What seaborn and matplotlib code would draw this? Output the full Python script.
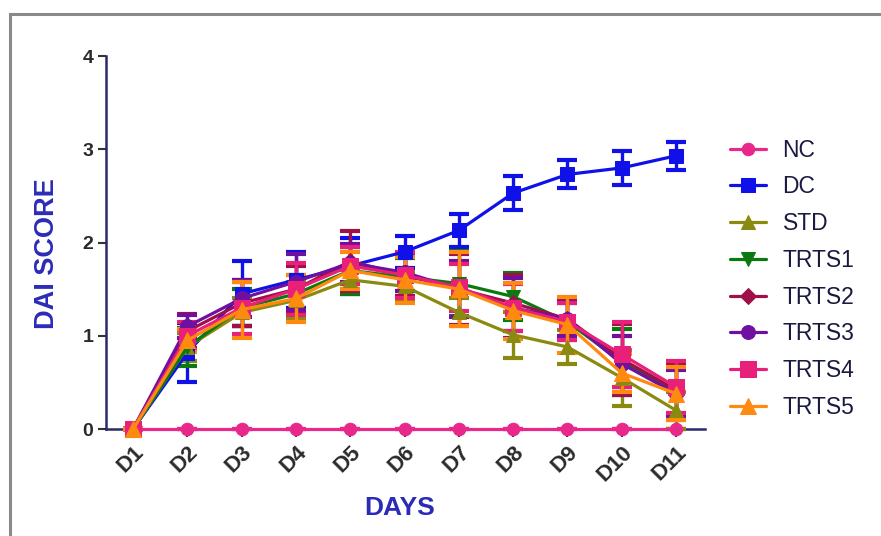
import numpy as np
import pandas as pd
import matplotlib
matplotlib.use("Agg")
import matplotlib.pyplot as plt
import seaborn as sns
from matplotlib.patches import Rectangle

# data (mean and error per day)
days = ['D1', 'D2', 'D3', 'D4', 'D5', 'D6', 'D7', 'D8', 'D9', 'D10', 'D11']
groups = ['NC', 'DC', 'STD', 'TRTS1', 'TRTS2', 'TRTS3', 'TRTS4', 'TRTS5']

nc = [0, 0, 0, 0, 0, 0, 0, 0, 0, 0, 0]
nc_err = [0, 0, 0, 0, 0, 0, 0, 0, 0, 0, 0]
dc = [0, 0.82, 1.45, 1.6, 1.75, 1.9, 2.13, 2.53, 2.73, 2.8, 2.93]
dc_err = [0, 0.32, 0.35, 0.3, 0.3, 0.17, 0.18, 0.18, 0.15, 0.18, 0.15]
std = [0, 0.88, 1.25, 1.38, 1.6, 1.53, 1.25, 1.01, 0.88, 0.55, 0.2]
std_err = [0, 0.15, 0.15, 0.2, 0.1, 0.15, 0.15, 0.25, 0.18, 0.3, 0.2]
trts1 = [0, 0.88, 1.3, 1.45, 1.7, 1.63, 1.56, 1.42, 1.15, 0.72, 0.4]
trts1_err = [0, 0.2, 0.2, 0.2, 0.25, 0.2, 0.35, 0.25, 0.2, 0.35, 0.3]
trts2 = [0, 1.05, 1.35, 1.5, 1.8, 1.65, 1.5, 1.35, 1.18, 0.75, 0.42]
trts2_err = [0, 0.18, 0.25, 0.25, 0.32, 0.22, 0.38, 0.3, 0.22, 0.38, 0.28]
trts3 = [0, 1.1, 1.4, 1.58, 1.78, 1.68, 1.5, 1.3, 1.18, 0.7, 0.38]
trts3_err = [0, 0.12, 0.2, 0.3, 0.2, 0.2, 0.3, 0.32, 0.18, 0.3, 0.25]
trts4 = [0, 1.0, 1.3, 1.5, 1.75, 1.65, 1.52, 1.3, 1.15, 0.8, 0.45]
trts4_err = [0, 0.15, 0.28, 0.28, 0.2, 0.25, 0.25, 0.25, 0.2, 0.35, 0.28]
trts5 = [0, 0.95, 1.28, 1.4, 1.7, 1.6, 1.5, 1.27, 1.12, 0.6, 0.38]
trts5_err = [0, 0.12, 0.3, 0.25, 0.2, 0.25, 0.4, 0.3, 0.3, 0.2, 0.28]

means = [nc, dc, std, trts1, trts2, trts3, trts4, trts5]
errs = [nc_err, dc_err, std_err, trts1_err, trts2_err, trts3_err, trts4_err, trts5_err]

colors = {'NC': '#E8288A', 'DC': '#1010E8', 'STD': '#8A8A10', 'TRTS1': '#0A7A10',
          'TRTS2': '#A01048', 'TRTS3': '#7010A0', 'TRTS4': '#E8207A', 'TRTS5': '#FF8A10'}
markers = {'NC': 'o', 'DC': 's', 'STD': '^', 'TRTS1': 'v',
           'TRTS2': 'D', 'TRTS3': 'o', 'TRTS4': 's', 'TRTS5': '^'}
msizes = {'NC': 9, 'DC': 10, 'STD': 10, 'TRTS1': 10,
          'TRTS2': 8, 'TRTS3': 10, 'TRTS4': 11, 'TRTS5': 11}

rows = []
for g, m, e in zip(groups, means, errs):
    for i, d in enumerate(days):
        rows.append({'group': g, 'x': i, 'day': d, 'score': m[i], 'err': e[i]})
df = pd.DataFrame(rows)

sns.set_theme(style='white')
plt.rcParams['font.family'] = ['Liberation Sans', 'DejaVu Sans']

fig = plt.figure(figsize=(8.81, 5.36), dpi=100)
ax = fig.add_axes([0.1203, 0.1996, 0.6797, 0.6959])

axis_col = '#2A2A6A'
for g in groups:
    sub = df[df['group'] == g]
    c = colors[g]
    ax.errorbar(sub['x'], sub['score'], yerr=sub['err'], fmt='none', ecolor=c,
                elinewidth=2.4, capsize=7, capthick=3, clip_on=False, zorder=3)
    sns.lineplot(data=sub, x='x', y='score', ax=ax, color=c, marker=markers[g],
                 markersize=msizes[g], markeredgecolor=c, linewidth=2.3,
                 label=g, clip_on=False, zorder=4, errorbar=None)

ax.set_xlim(-0.5, 10.53)
ax.set_ylim(0, 4)
ax.set_yticks([0, 1, 2, 3, 4])
ax.set_xticks(range(len(days)))
ax.set_xticklabels(days, rotation=45, ha='right', rotation_mode='anchor')

sns.despine(ax=ax)
for s in ['left', 'bottom']:
    ax.spines[s].set_color(axis_col)
    ax.spines[s].set_linewidth(1.8)
ax.tick_params(axis='both', direction='out', length=6, width=1.5, color='#333333',
               labelcolor='#2a2a2a', bottom=True, left=True, pad=3)
ax.tick_params(axis='x', labelsize=16)
ax.tick_params(axis='y', labelsize=14)
for lab in ax.get_xticklabels() + ax.get_yticklabels():
    lab.set_fontweight('bold')

ax.set_xlabel('DAYS', fontsize=19, fontweight='bold', color='#2B2BB8', labelpad=8)
ax.set_ylabel('DAI SCORE', fontsize=19.5, fontweight='bold', color='#2B2BB8', labelpad=16)
ax.xaxis.label.set_x(0.49)
ax.yaxis.label.set_y(0.47)

handles, labels = ax.get_legend_handles_labels()
ax.legend_.remove()
leg = fig.legend(handles, labels, loc='upper left', bbox_to_anchor=(0.805, 0.78),
                 frameon=False, fontsize=16.5, labelspacing=0.6, handlelength=1.6,
                 handletextpad=0.7)
for t in leg.get_texts():
    t.set_color('#1a1a40')

# grey frame around the figure
fig.patches.append(Rectangle((10 / 881, -0.05), 1.2, 1 - 14 / 536 + 0.05,
                             transform=fig.transFigure, fill=False,
                             edgecolor='#8a8a8a', linewidth=2.2))

fig.savefig('out.png', dpi=100)
